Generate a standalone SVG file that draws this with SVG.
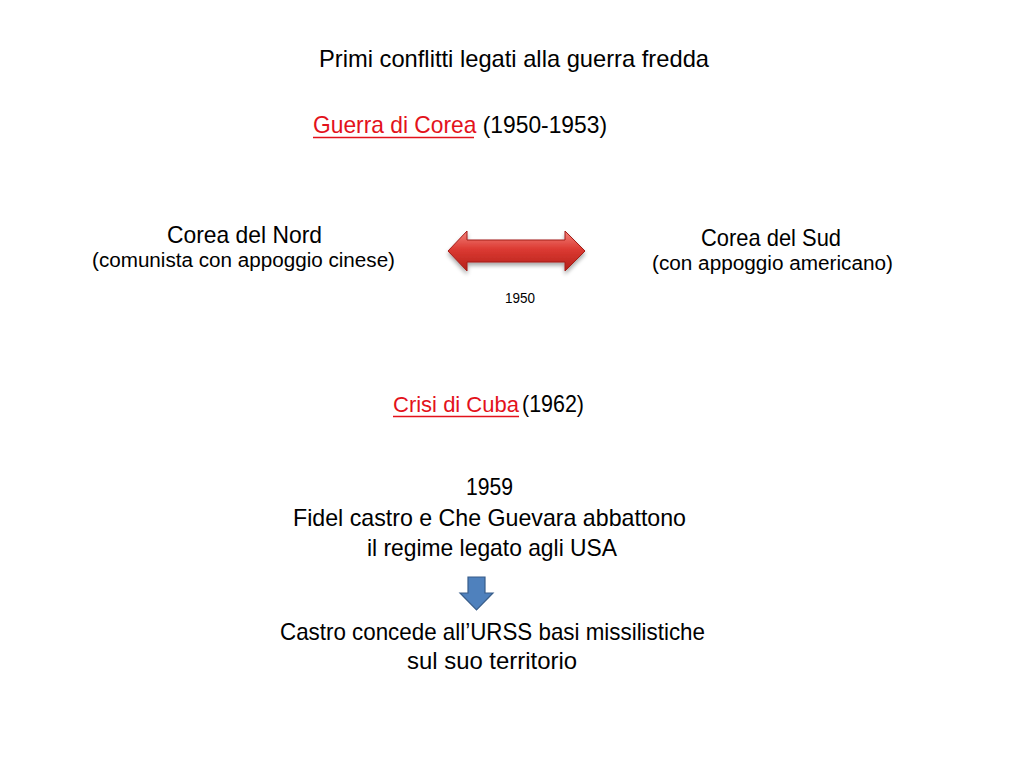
<svg xmlns="http://www.w3.org/2000/svg" width="1024" height="768" viewBox="0 0 1024 768">
<defs>
<style>
text{font-family:"Liberation Sans",Arial,sans-serif;fill:#000;}
.t{font-size:24px;}
.s{font-size:20px;}
.xs{font-size:15px;}
.red{fill:#e3121b;}
.ul{stroke:#e3121b;stroke-width:1.5;}
</style>
<linearGradient id="rg" x1="0" y1="0" x2="0" y2="1">
<stop offset="0" stop-color="#f2837c"/>
<stop offset="0.45" stop-color="#dc3a32"/>
<stop offset="1" stop-color="#b31f1a"/>
</linearGradient>
<filter id="sh" x="-10%" y="-20%" width="120%" height="150%">
<feGaussianBlur in="SourceAlpha" stdDeviation="2"/>
<feOffset dy="3"/>
<feComponentTransfer><feFuncA type="linear" slope="0.35"/></feComponentTransfer>
<feMerge><feMergeNode/><feMergeNode in="SourceGraphic"/></feMerge>
</filter>
</defs>
<rect width="1024" height="768" fill="#fff"/>

<g id="title"><text class="t" x="319" y="67" textLength="390" lengthAdjust="spacingAndGlyphs">Primi conflitti legati alla guerra fredda</text></g>

<g id="corea-title">
<text class="t" x="313" y="133" textLength="294" lengthAdjust="spacingAndGlyphs"><tspan class="red">Guerra di Corea</tspan> (1950-1953)</text>
<line class="ul" x1="313" y1="137.5" x2="474" y2="137.5"/>
</g>

<g id="nord">
<text class="t" x="167" y="243" textLength="155" lengthAdjust="spacingAndGlyphs">Corea del Nord</text>
<text class="s" x="92" y="267" textLength="303" lengthAdjust="spacingAndGlyphs">(comunista con appoggio cinese)</text>
</g>

<g id="sud">
<text class="t" x="701" y="246" textLength="140" lengthAdjust="spacingAndGlyphs">Corea del Sud</text>
<text class="s" x="652" y="270" textLength="241" lengthAdjust="spacingAndGlyphs">(con appoggio americano)</text>
</g>

<g id="connectors">
<path d="M448,251 L467,231 L467,240 L565,240 L565,231 L585,251 L565,271 L565,262 L467,262 L467,271 Z" fill="url(#rg)" stroke="#a31d19" stroke-width="1" filter="url(#sh)"/>
<path d="M468,577 L485,577 L485,593 L493,593 L476.5,610 L460,593 L468,593 Z" fill="#4f81bd" stroke="#385d8a" stroke-width="1.2"/>
</g>

<g id="year1950"><text class="xs" x="505" y="303" textLength="30" lengthAdjust="spacingAndGlyphs">1950</text></g>

<g id="cuba-title">
<text class="red" x="393" y="412" font-size="22" textLength="126" lengthAdjust="spacingAndGlyphs">Crisi di Cuba</text>
<text class="t" x="522" y="412" textLength="62" lengthAdjust="spacingAndGlyphs">(1962)</text>
<line class="ul" x1="393" y1="416.5" x2="519" y2="416.5"/>
</g>

<g id="fidel">
<text class="t" x="466" y="495" textLength="47" lengthAdjust="spacingAndGlyphs">1959</text>
<text class="t" x="293" y="526" textLength="393" lengthAdjust="spacingAndGlyphs">Fidel castro e Che Guevara abbattono</text>
<text class="t" x="367" y="556" textLength="250" lengthAdjust="spacingAndGlyphs">il regime legato agli USA</text>
</g>

<g id="castro">
<text class="t" x="280" y="640" textLength="425" lengthAdjust="spacingAndGlyphs">Castro concede all’URSS basi missilistiche</text>
<text class="t" x="407" y="669" textLength="170" lengthAdjust="spacingAndGlyphs">sul suo territorio</text>
</g>
</svg>
